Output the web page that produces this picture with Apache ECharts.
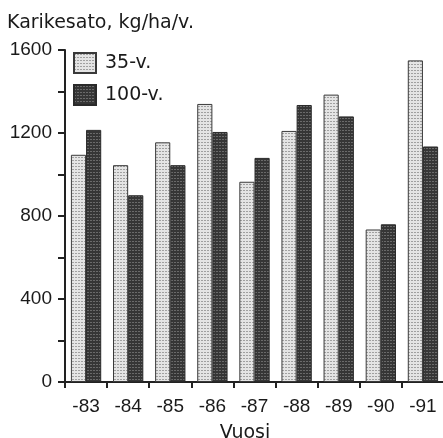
<!DOCTYPE html>
<html>
<head>
<meta charset="utf-8">
<script src="https://cdn.jsdelivr.net/npm/echarts@6/dist/echarts.min.js"></script>
<style>
  html, body { margin: 0; padding: 0; background: #fff; }
  #chart { width: 443px; height: 438px; }
</style>
</head>
<body>
<div id="chart"></div>
<script>
// Annual litterfall by stand age
const years = ['-83', '-84', '-85', '-86', '-87', '-88', '-89', '-90', '-91'];
const stand35 = [1095, 1045, 1155, 1340, 965, 1210, 1385, 735, 1550];
const stand100 = [1215, 900, 1045, 1205, 1080, 1335, 1280, 760, 1135];
const yTickLabels = ['0', '400', '800', '1200', '1600'];

// Small dotted screentone tiles used as bar fills
function screentone(base, dot) {
  const c = document.createElement('canvas');
  c.width = 3; c.height = 3;
  const ctx = c.getContext('2d');
  ctx.fillStyle = base;
  ctx.fillRect(0, 0, 3, 3);
  ctx.fillStyle = dot;
  ctx.fillRect(1, 1, 1, 1);
  ctx.fillRect(0, 1, 1, 1);
  return c;
}
const lightFill = { image: screentone('#e4e4e4', '#a0a0a0'), repeat: 'repeat' };
const darkFill = { image: screentone('#363636', '#6a6a6a'), repeat: 'repeat' };

const numFont = '"Liberation Sans", Arial, Helvetica, sans-serif';
const wordFont = '"DejaVu Sans", Verdana, sans-serif';
const ink = '#1a1a1a';
const chart = echarts.init(document.getElementById('chart'), null, { renderer: 'canvas' });

chart.setOption({
  animation: false,
  backgroundColor: '#fff',
  textStyle: { fontFamily: numFont, color: ink },
  title: {
    text: 'Karikesato, kg/ha/v.',
    left: 7, top: 14, padding: 0,
    textStyle: { fontFamily: wordFont, fontSize: 19, fontWeight: 'normal', color: ink }
  },
  legend: {
    orient: 'vertical',
    left: 73, top: 52, padding: 0,
    icon: 'rect',
    itemWidth: 22, itemHeight: 20, itemGap: 10,
    textStyle: { fontFamily: wordFont, fontSize: 19, color: ink, padding: [0, 0, 0, 4] },
    data: ['35-v.', '100-v.']
  },
  grid: {
    left: 65, top: 50, right: -1, bottom: 56,
    containLabel: false, outerBoundsMode: 'none'
  },
  xAxis: {
    type: 'category',
    data: years,
    name: 'Vuosi',
    nameLocation: 'middle',
    nameGap: 42,
    nameTextStyle: { fontFamily: wordFont, fontSize: 19, color: ink, padding: [0, 19, 0, 0] },
    axisLine: { lineStyle: { color: '#222', width: 2 } },
    axisTick: { show: true, length: 6, lineStyle: { color: '#222', width: 2 } },
    axisLabel: { fontFamily: numFont, fontSize: 19, color: ink, margin: 15 }
  },
  yAxis: {
    type: 'value',
    min: 0, max: 1600, interval: 200,
    axisLine: { show: true, lineStyle: { color: '#222', width: 2 } },
    axisTick: { show: true, length: 7, lineStyle: { color: '#222', width: 2 } },
    axisLabel: {
      fontFamily: numFont, fontSize: 19, color: ink, margin: 13,
      formatter: v => (yTickLabels.indexOf(String(v)) >= 0 ? String(v) : '')
    },
    splitLine: { show: false }
  },
  series: [
    {
      name: '35-v.', type: 'bar', data: stand35,
      barGap: '0%', barCategoryGap: '28%',
      itemStyle: { color: lightFill, borderColor: '#3a3a3a', borderWidth: 1 }
    },
    {
      name: '100-v.', type: 'bar', data: stand100,
      itemStyle: { color: darkFill, borderColor: '#2a2a2a', borderWidth: 1 }
    }
  ]
});
</script>
</body>
</html>
